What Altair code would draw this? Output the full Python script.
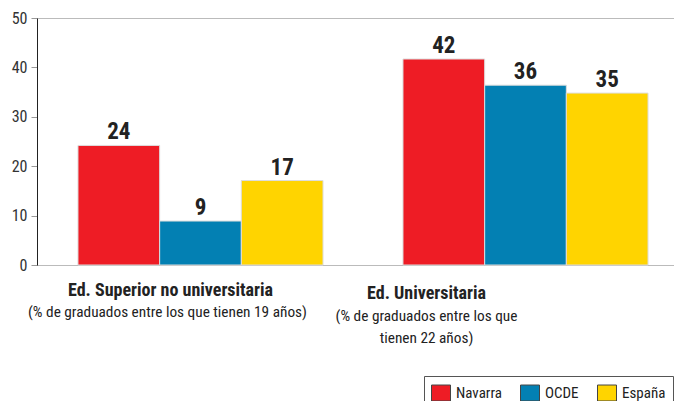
import altair as alt
import pandas as pd

categories = ["Ed. Superior no universitaria", "Ed. Universitaria"]
series = ["Navarra", "OCDE", "España"]
navarra = [24.2, 41.7]
ocde = [8.9, 36.4]
espana = [17.1, 34.8]
colors = ["#ee1c25", "#0380b3", "#ffd400"]
y_ticks = [0, 10, 20, 30, 40, 50]

rows = []
for name, vals in zip(series, [navarra, ocde, espana]):
    for cat, v in zip(categories, vals):
        rows.append({"categoria": cat, "serie": name, "valor": v})
df = pd.DataFrame(rows)

FONT = "Roboto Condensed, Open Sans Condensed, sans-serif"
first = categories[0]

x_scale = alt.Scale(domain=categories, paddingInner=0.246, paddingOuter=0.103, align=0.612)
y_scale = alt.Scale(domain=[0, 50], nice=False)
y_axis = alt.Axis(
    values=y_ticks, title=None, domainColor="#222", domainWidth=1,
    tickColor="#999", tickSize=6, labelFontSize=16, labelColor="#333",
    labelPadding=4, labelFont=FONT,
    grid=True, gridColor="#bbb",
    gridOpacity=alt.condition("datum.value == 50", alt.value(1), alt.value(0)),
)

x_axis_main = alt.Axis(
    orient="bottom", title=None, labelAngle=0, labelFontSize=18, labelFontWeight="bold",
    labelColor="#222", labelFont=FONT, ticks=False, domainColor="#bbb", labelLimit=0,
    labelBaseline="top",
    labelOffset=alt.condition(f"datum.value == '{first}'", alt.value(-30), alt.value(-99)),
    labelPadding=alt.condition(f"datum.value == '{first}'", alt.value(16), alt.value(19)),
)

sub_expr = (
    f"datum.value == '{first}' ? '(% de graduados entre los que tienen 19 años)' "
    ": ['(% de graduados entre los que', 'tienen 22 años)']"
)
x_axis_sub = alt.Axis(
    orient="bottom", title=None, labelAngle=0, labelFontSize=15.3, labelColor="#222",
    labelFont=FONT, ticks=False, domain=False, labelLimit=0, labelExpr=sub_expr,
    labelLineHeight=22, labelBaseline="top",
    labelOffset=alt.condition(f"datum.value == '{first}'", alt.value(-33), alt.value(-99)),
    labelPadding=alt.condition(f"datum.value == '{first}'", alt.value(39), alt.value(43)),
)

color = alt.Color(
    "serie:N", scale=alt.Scale(domain=series, range=colors),
    legend=alt.Legend(
        title=None, orient="none", legendX=387, legendY=358, direction="horizontal",
        strokeColor="#555", padding=7, symbolType="M-1,-0.84H1V0.84H-1Z",
        symbolSize=361, symbolStrokeColor="#444", symbolStrokeWidth=1,
        labelFontSize=15, labelFont=FONT, labelColor="#222", labelOffset=5,
        columnPadding=16, symbolOpacity=1,
    ),
)

offset = alt.XOffset("serie:N", scale=alt.Scale(domain=series, paddingInner=0, paddingOuter=0))

bars = alt.Chart(df).mark_bar(stroke="#dddddd", strokeWidth=1).encode(
    x=alt.X("categoria:N", scale=x_scale, axis=x_axis_main, sort=categories),
    xOffset=offset,
    y=alt.Y("valor:Q", scale=y_scale, axis=y_axis),
    color=color,
)

labels = alt.Chart(df).mark_text(
    baseline="alphabetic", dy=-6, fontSize=23, fontWeight="bold", color="#222", font=FONT
).encode(
    x=alt.X("categoria:N", scale=x_scale, axis=x_axis_sub, sort=categories),
    xOffset=offset,
    y=alt.Y("valor:Q", scale=y_scale, axis=y_axis),
    text=alt.Text("valor:Q", format=".0f"),
)

chart = alt.layer(bars, labels).resolve_axis(x="independent").properties(
    width=637, height=247,
    autosize=alt.AutoSizeParams(type="none"),
    padding={"left": 29, "top": 10, "right": 0, "bottom": 136},
).configure_view(stroke=None).configure(font=FONT)

chart.save("out.html", embed_options={"renderer": "svg", "actions": False})
